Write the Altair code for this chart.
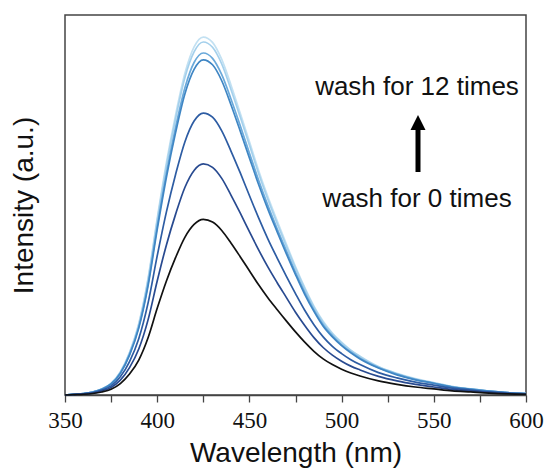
import altair as alt
import pandas as pd

wavelength = [350, 355, 360, 365, 370, 375, 380, 385, 390, 395, 400, 405, 410, 415, 420,
              425, 430, 435, 440, 445, 450, 455, 460, 465, 470, 475, 480, 485, 490, 495,
              500, 505, 510, 520, 530, 540, 550, 560, 570, 580, 590, 600]

wash_0 = [0, 1, 2, 4, 8, 15, 30, 55, 92, 150, 228, 300, 362, 415, 449,
          462, 455, 433, 400, 364, 327, 290, 256, 225, 195, 166, 139, 115, 95, 80,
          68, 58, 50, 37, 28, 21, 16, 11, 8, 5, 3, 2]
wash_2 = [0, 1, 3, 5, 11, 20, 39, 72, 121, 197, 300, 395, 476, 546, 591,
          608, 599, 570, 526, 479, 430, 382, 337, 296, 257, 218, 183, 151, 125, 105,
          89, 76, 66, 49, 37, 28, 21, 14, 11, 7, 4, 3]
wash_4 = [0, 2, 3, 6, 13, 24, 48, 88, 148, 241, 366, 482, 581, 666, 721,
          742, 731, 695, 642, 585, 525, 466, 411, 361, 313, 267, 223, 185, 153, 128,
          109, 93, 80, 59, 45, 34, 26, 18, 13, 8, 5, 3]
wash_6 = [0, 2, 4, 8, 15, 29, 57, 105, 176, 286, 435, 573, 691, 792, 857,
          882, 869, 827, 764, 695, 624, 554, 489, 430, 372, 317, 265, 220, 181, 153,
          130, 111, 95, 71, 53, 40, 31, 21, 15, 10, 6, 4]
wash_8 = [0, 2, 4, 8, 16, 29, 58, 107, 179, 292, 444, 584, 705, 808, 875,
          900, 886, 843, 779, 709, 637, 565, 499, 438, 380, 323, 271, 224, 185, 156,
          132, 113, 97, 72, 55, 41, 31, 21, 16, 10, 6, 4]
wash_10 = [0, 2, 4, 8, 16, 30, 60, 111, 185, 302, 459, 603, 728, 835, 903,
           929, 915, 871, 804, 732, 658, 583, 515, 452, 392, 334, 280, 231, 191, 161,
           137, 117, 101, 74, 56, 42, 32, 22, 16, 10, 6, 4]
wash_12 = [0, 2, 4, 8, 16, 31, 61, 112, 188, 306, 465, 612, 738, 846, 916,
           942, 928, 883, 816, 742, 667, 591, 522, 459, 398, 338, 283, 234, 194, 163,
           139, 118, 102, 75, 57, 43, 33, 22, 16, 10, 6, 4]

series_names = ["wash 12", "wash 10", "wash 8", "wash 6", "wash 4", "wash 2", "wash 0"]
series_values = [wash_12, wash_10, wash_8, wash_6, wash_4, wash_2, wash_0]
series_colors = ["#c3e1f2", "#a4d0ec", "#6aa9da", "#3f86c4", "#2d5ca3", "#284a90", "#111111"]

x_ticks = [350, 375, 400, 425, 450, 475, 500, 525, 550, 575, 600]
annotation_texts = ["wash for 12 times", "wash for 0 times"]

rows = []
for order, (name, vals) in enumerate(zip(series_names, series_values)):
    for w, v in zip(wavelength, vals):
        rows.append({"wavelength": w, "intensity": v, "series": name, "order": order})
df = pd.DataFrame(rows)

lines = alt.Chart(df).mark_line(strokeWidth=1.7, interpolate="monotone").encode(
    x=alt.X("wavelength:Q",
            scale=alt.Scale(domain=[350, 600], nice=False, zero=False),
            axis=alt.Axis(title="Wavelength (nm)", values=x_ticks,
                          labelExpr="datum.value % 50 == 0 ? datum.label : ''",
                          labelFlush=False, labelOverlap=False,
                          tickSize=7, tickWidth=1.3, tickColor="#444",
                          domainColor="#444", domainWidth=1.5,
                          labelFont="Liberation Serif", labelFontSize=23,
                          labelColor="#111", labelPadding=7,
                          titleFont="Liberation Sans", titleFontSize=28,
                          titleFontWeight="normal", titleColor="#111",
                          titlePadding=7, grid=False)),
    y=alt.Y("intensity:Q",
            scale=alt.Scale(domain=[0, 1000], nice=False),
            axis=alt.Axis(title="Intensity (a.u.)", ticks=False, labels=False,
                          domain=False, grid=False,
                          titleFont="Liberation Sans", titleFontSize=28,
                          titleFontWeight="normal", titleColor="#111",
                          titlePadding=27)),
    color=alt.Color("series:N", scale=alt.Scale(domain=series_names, range=series_colors),
                    legend=None),
    order=alt.Order("order:Q"),
)

labels_df = pd.DataFrame({"text": annotation_texts, "ypos": [80, 192]})
texts = alt.Chart(labels_df).mark_text(
    font="Liberation Sans", fontSize=26, color="#111", align="center", baseline="alphabetic"
).encode(
    text="text:N",
    x=alt.value(352),
    y=alt.Y("ypos:Q", scale=None),
)

arrow_df = pd.DataFrame({"k": [0]})
shaft = alt.Chart(arrow_df).mark_rule(strokeWidth=5, color="#000").encode(
    x=alt.value(353), y=alt.value(112), y2=alt.value(157)
)
head = alt.Chart(arrow_df).mark_point(
    shape="M0,-1L1,1L-1,1Z", size=225, filled=True, color="#000", opacity=1, strokeWidth=0
).encode(
    x=alt.value(353), y=alt.value(107.5)
)

chart = alt.layer(lines, texts, shaft, head).properties(
    width=461, height=380,
    autosize=alt.AutoSizeParams(type="none"),
    padding={"left": 65, "top": 15, "right": 21, "bottom": 75},
).configure_view(
    stroke="#444", strokeWidth=1.5
).configure_axisX(
    labelFont="Liberation Serif", labelFontSize=23
)

chart.save("out.html", embed_options={"renderer": "svg", "actions": False})
